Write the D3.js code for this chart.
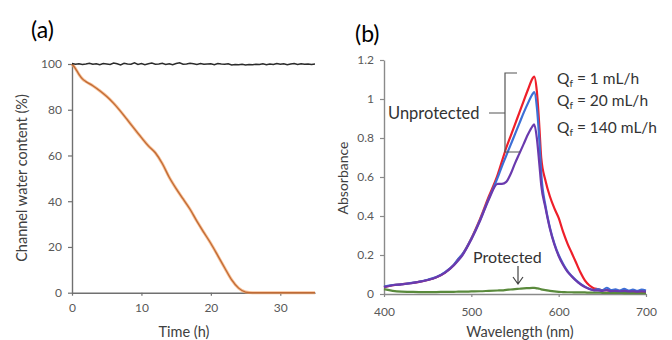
<!DOCTYPE html>
<html><head><meta charset="utf-8">
<script src="https://cdn.jsdelivr.net/npm/d3@7"></script>
<style>
html,body{margin:0;padding:0;background:#fff;}
svg{display:block;font-family:Lato,"Open Sans",sans-serif;}
</style></head>
<body>
<svg id="chart" width="672" height="340"></svg>
<script>
// ---------- Panel (a) data ----------
const aXTicks = [0, 10, 20, 30];
const aYTicks = [0, 20, 40, 60, 80, 100];
const blackTime = d3.range(0, 35.01, 0.5);
const blackValues = [100.2,99.9,100.1,99.8,100.0,100.3,99.9,100.1,99.7,100.2,100.0,99.8,100.4,100.1,99.6,100.3,100.0,99.9,100.5,99.8,100.2,99.7,100.1,100.4,99.9,100.0,100.3,99.8,100.1,99.7,100.2,100.5,99.9,100.0,100.3,100.1,99.8,100.2,99.9,100.0,100.1,99.7,100.2,100.0,99.9,100.1,99.6,99.8,99.7,99.9,99.6,99.8,99.7,99.9,99.8,100.1,99.7,100.0,99.8,100.2,99.9,100.1,99.7,100.0,100.2,99.8,100.1,99.9,100.0,99.8,100.0];
const orangeTime = [0,0.5,1,1.5,2,3,4,5,6,7,8,9,10,11,12,13,14,15,16,17,18,19,20,21,22,23,24,25,26,28,30,32,35];
const orangeValues = [100,98,95.5,93.5,92.3,90.5,88.3,85.8,82.8,79.3,75.5,71.6,67.8,64.2,61.2,56.5,50.5,45.5,41,36.5,31.2,26.3,21.5,16.2,10.8,5.6,2,0.3,0,0,0,0,0];

// ---------- Panel (b) data ----------
const bXTicks = [400, 500, 600, 700];
const bYTicks = [0, 0.2, 0.4, 0.6, 0.8, 1, 1.2];
const bYTickLabels = ["0", "0.2", "0.4", "0.6", "0.8", "1", "1.2"];
const wavelength = [400,410,420,430,440,450,460,470,480,485,490,500,510,520,530,535,540,545,550,555,560,565,570,572,575,578,580,585,590,595,600,605,610,615,620,625,630,635,640,645,650,655,660,665,670,675,680,685,690,695,700];
const redQ1 = [.035,.045,.05,.055,.062,.072,.086,.11,.148,.178,.205,.285,.385,.5,.61,.68,.75,.81,.87,.93,.99,1.05,1.105,1.115,1.04,.85,.70,.58,.50,.44,.39,.32,.26,.21,.16,.11,.07,.045,.03,.025,.02,.02,.018,.02,.016,.018,.015,.016,.014,.015,.014];
const blueQ20 = [.038,.046,.05,.056,.063,.073,.087,.112,.15,.18,.205,.283,.38,.49,.595,.655,.71,.765,.82,.875,.93,.98,1.025,1.035,.96,.78,.62,.45,.34,.26,.20,.155,.118,.092,.07,.052,.038,.027,.02,.025,.018,.032,.02,.024,.018,.026,.017,.022,.016,.022,.018];
const purpleQ140 = [.036,.045,.049,.055,.062,.072,.086,.11,.148,.172,.2,.28,.375,.485,.565,.565,.575,.615,.67,.72,.77,.82,.86,.87,.80,.66,.56,.44,.335,.255,.195,.15,.115,.09,.068,.05,.036,.026,.02,.018,.016,.02,.015,.016,.014,.016,.013,.014,.012,.014,.012];
const greenProtected = [.025,.016,.012,.011,.010,.010,.010,.011,.011,.012,.012,.013,.014,.016,.018,.019,.021,.023,.025,.027,.029,.03,.031,.031,.029,.027,.024,.02,.016,.013,.011,.01,.009,.009,.008,.008,.008,.007,.007,.007,.006,.006,.006,.006,.006,.005,.005,.005,.005,.005,.005];
const legendLabels = [" = 1 mL/h", " = 20 mL/h", " = 140 mL/h"];

const svg = d3.select("#chart");
const tickColor = "#595959", axisColor = "#8a8a8a";

// ---------- Panel (a) ----------
const ax = d3.scaleLinear().domain([0, 35]).range([72, 315]);
const ay = d3.scaleLinear().domain([0, 100]).range([292.7, 64]);
const ga = svg.append("g");

const axA = ga.append("g").attr("transform", "translate(0,292.7)")
  .call(d3.axisBottom(ax).tickValues(aXTicks).tickSize(3).tickSizeOuter(0));
const ayA = ga.append("g").attr("transform", "translate(72,0)")
  .call(d3.axisLeft(ay).tickValues(aYTicks).tickSize(4).tickSizeOuter(0).tickPadding(6));
[axA, ayA].forEach(g => {
  g.select(".domain").attr("stroke", "#707070").attr("stroke-width", 1.4);
  g.selectAll(".tick line").attr("stroke", "#707070").attr("stroke-width", 1.2);
  g.selectAll(".tick text").attr("fill", tickColor).attr("font-size", 12).attr("font-family", "Lato");
});
axA.selectAll(".tick text").attr("dy", "1.15em");

ga.append("path")
  .datum(orangeTime.map((t, i) => [t, orangeValues[i]]))
  .attr("fill", "none").attr("stroke", "#f2a365").attr("stroke-width", 3).attr("stroke-opacity", 0.7)
  .attr("d", d3.line().x(d => ax(d[0])).y(d => ay(d[1])).curve(d3.curveMonotoneX));
ga.append("path")
  .datum(orangeTime.map((t, i) => [t, orangeValues[i]]))
  .attr("fill", "none").attr("stroke", "#c06a35").attr("stroke-width", 1.3)
  .attr("d", d3.line().x(d => ax(d[0])).y(d => ay(d[1])).curve(d3.curveMonotoneX));
ga.append("path")
  .datum(blackTime.map((t, i) => [t, blackValues[i]]))
  .attr("fill", "none").attr("stroke", "#2b2b2b").attr("stroke-width", 1.5)
  .attr("d", d3.line().x(d => ax(d[0])).y(d => ay(d[1])));

ga.append("text").attr("x", 184).attr("y", 337).attr("text-anchor", "middle")
  .attr("font-size", 14.5).attr("fill", "#404040").text("Time (h)");
ga.append("text").attr("transform", "translate(27,178) rotate(-90)").attr("text-anchor", "middle")
  .attr("font-size", 14.5).attr("fill", "#404040").text("Channel water content (%)");
ga.append("text").attr("x", 31).attr("y", 38).attr("font-size", 23).attr("fill", "#000").text("(a)");

// ---------- Panel (b) ----------
const bx = d3.scaleLinear().domain([400, 700]).range([384, 646]);
const by = d3.scaleLinear().domain([0, 1.2]).range([294, 60]);
const gb = svg.append("g");

const axB = gb.append("g").attr("transform", "translate(0,294)")
  .call(d3.axisBottom(bx).tickValues(bXTicks).tickSize(3).tickSizeOuter(0).tickPadding(5));
const ayB = gb.append("g").attr("transform", "translate(384,0)")
  .call(d3.axisLeft(by).tickValues(bYTicks).tickFormat((d, i) => bYTickLabels[i]).tickSize(4).tickSizeOuter(0).tickPadding(6));
[axB, ayB].forEach(g => {
  g.select(".domain").attr("stroke", axisColor).attr("stroke-width", 1.4);
  g.selectAll(".tick line").attr("stroke", axisColor).attr("stroke-width", 1.2);
  g.selectAll(".tick text").attr("fill", tickColor).attr("font-size", 12).attr("font-family", "Lato");
});
axB.selectAll(".tick text").attr("dy", "1.15em");

const specLine = d3.line().x((d, i) => bx(wavelength[i])).y(d => by(d)).curve(d3.curveMonotoneX);
[[greenProtected, "#5a8a3c"], [redQ1, "#ee1f2a"], [blueQ20, "#3d6fd6"], [purpleQ140, "#6a3aae"]].forEach(([vals, c]) => {
  gb.append("path").datum(vals).attr("fill", "none").attr("stroke", c)
    .attr("stroke-width", 2.2).attr("stroke-linejoin", "round").attr("d", specLine);
});

gb.append("text").attr("x", 520).attr("y", 337).attr("text-anchor", "middle")
  .attr("font-size", 14.5).attr("fill", "#404040").text("Wavelength (nm)");
gb.append("text").attr("transform", "translate(348,178) rotate(-90)").attr("text-anchor", "middle")
  .attr("font-size", 14).attr("fill", "#404040").text("Absorbance");
gb.append("text").attr("x", 355).attr("y", 42).attr("font-size", 23).attr("fill", "#000").text("(b)");

// annotations
gb.append("text").attr("x", 388).attr("y", 119).attr("font-size", 16.5).attr("fill", "#333").text("Unprotected");
gb.append("path").attr("fill", "none").attr("stroke", "#555").attr("stroke-width", 1.2)
  .attr("d", "M489,113H505M517,73H505V152H520");
legendLabels.forEach((lab, i) => {
  const t = gb.append("text").attr("x", 557).attr("y", [84, 106, 133][i])
    .attr("font-size", 15.5).attr("fill", "#333");
  t.append("tspan").text("Q");
  t.append("tspan").attr("font-size", 10).attr("dy", 3).text("f");
  t.append("tspan").attr("dy", -3).text(lab);
});
gb.append("text").attr("x", 473).attr("y", 263).attr("font-size", 16).attr("fill", "#333").text("Protected");
gb.append("path").attr("fill", "none").attr("stroke", "#444").attr("stroke-width", 1.2)
  .attr("d", "M518,266V284M513,277L518,284L523,277");
</script>
</body></html>
